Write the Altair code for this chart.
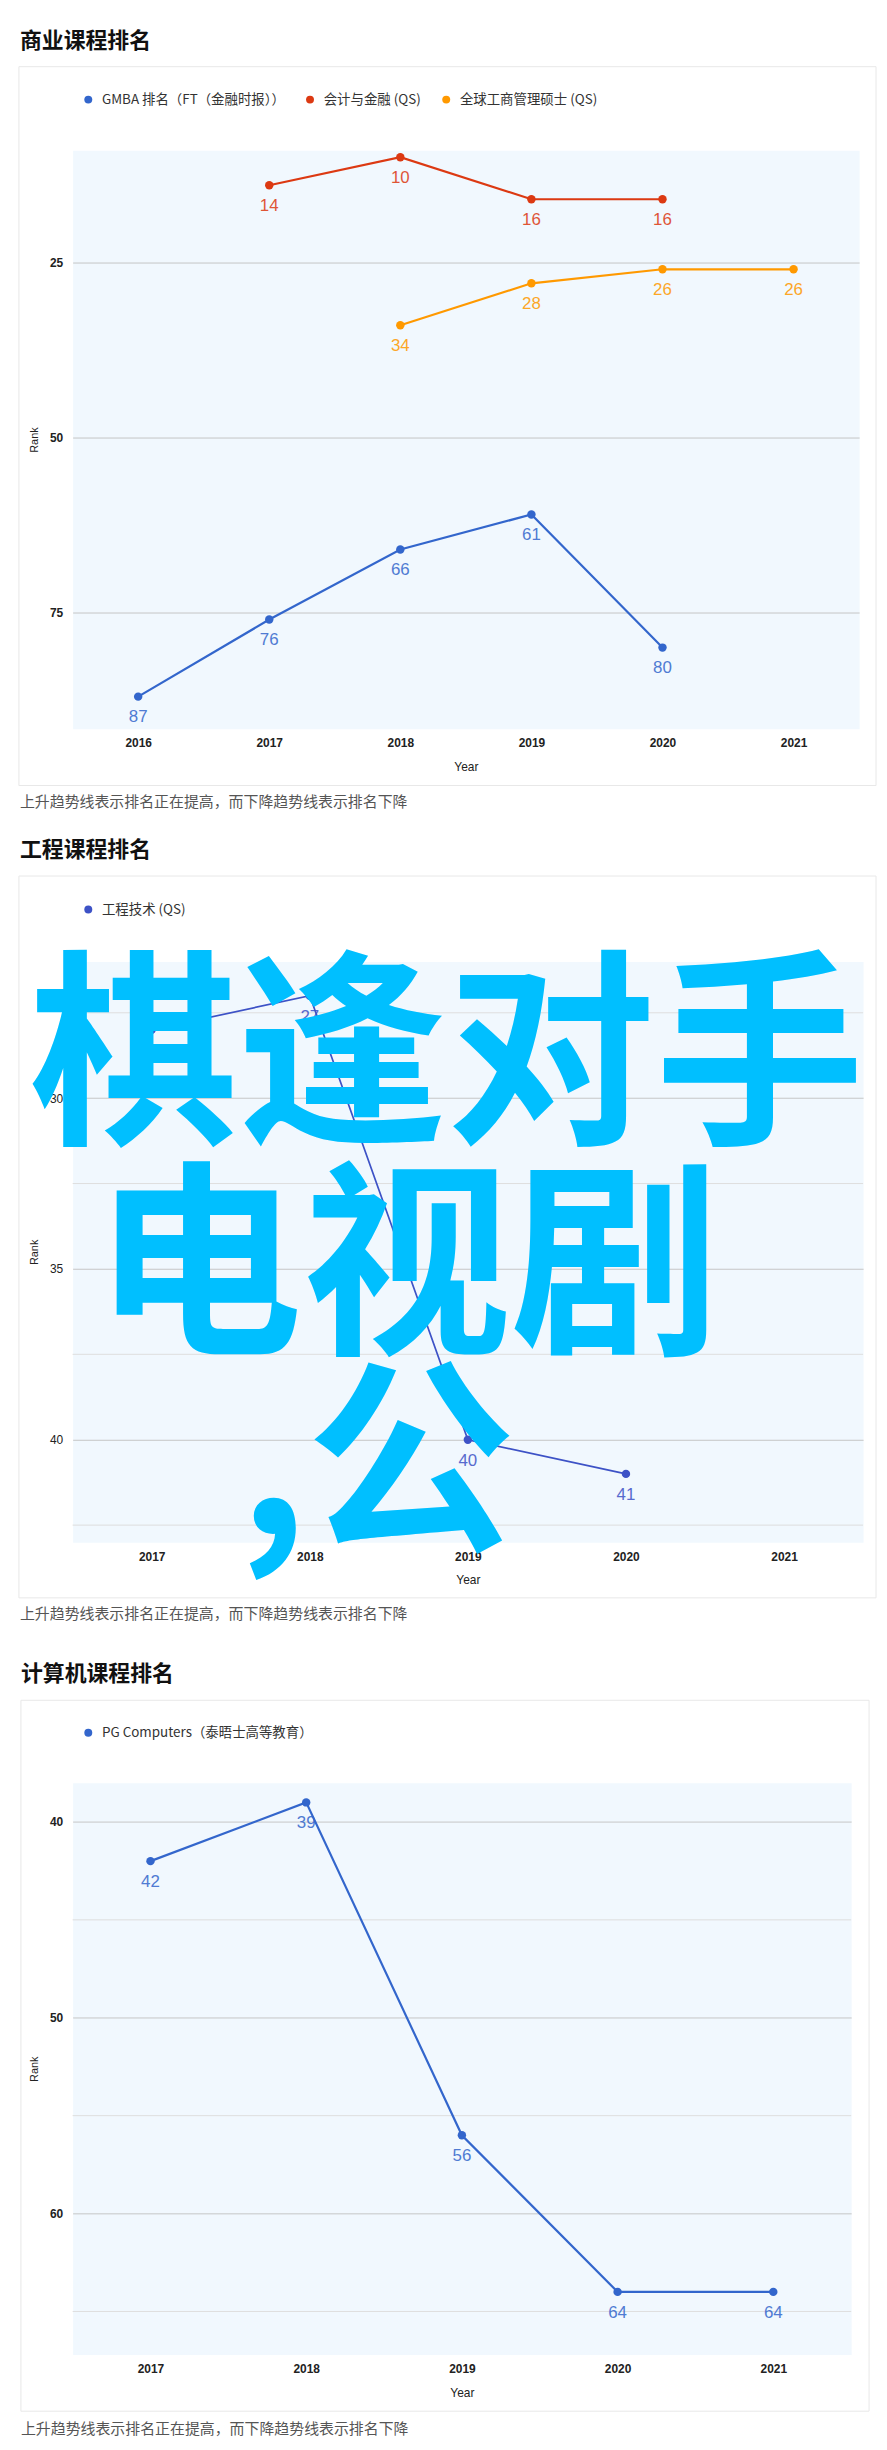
import altair as alt
import pandas as pd

FONT = "Liberation Sans, Arial, Noto Sans CJK SC, sans-serif"
CJK = "Noto Sans CJK SC, Liberation Sans, sans-serif"

CAPTION = "上升趋势线表示排名正在提高，而下降趋势线表示排名下降"

# ---------------- chart 1 data ----------------
c1_title = "商业课程排名"
c1_years = ["2016", "2017", "2018", "2019", "2020", "2021"]
c1_series = ["GMBA 排名（FT（金融时报））", "会计与金融 (QS)", "全球工商管理硕士 (QS)"]
c1_colors = ["#3366cc", "#dc3912", "#ff9900"]
gmba_years = ["2016", "2017", "2018", "2019", "2020"]
gmba_rank = [87, 76, 66, 61, 80]
acc_years = ["2017", "2018", "2019", "2020"]
acc_rank = [14, 10, 16, 16]
gm_years = ["2018", "2019", "2020", "2021"]
gm_rank = [34, 28, 26, 26]
c1_yticks = [25, 50, 75]
c1_minor = []
c1_ydomain = [9, 91.6]

# ---------------- chart 2 data ----------------
c2_title = "工程课程排名"
c2_years = ["2017", "2018", "2019", "2020", "2021"]
c2_series = ["工程技术 (QS)"]
c2_colors = ["#3d52c6"]
eng_years = ["2017", "2018", "2019", "2020"]
eng_rank = [28, 27, 40, 41]
c2_yticks = [30, 35, 40]
c2_minor = [27.5, 32.5, 37.5, 42.5]
c2_ydomain = [26, 43]

# ---------------- chart 3 data ----------------
c3_title = "计算机课程排名"
c3_years = ["2017", "2018", "2019", "2020", "2021"]
c3_series = ["PG Computers（泰晤士高等教育）"]
c3_colors = ["#3366cc"]
pg_years = ["2017", "2018", "2019", "2020", "2021"]
pg_rank = [42, 39, 56, 64, 64]
c3_yticks = [40, 50, 60]
c3_minor = [45, 55, 65]
c3_ydomain = [38, 67.2]

# overlay text seen on top of the second chart
overlay_lines = ["棋逢对手", "电视剧", ",公"]


def series_df(pairs):
    rows = []
    for name, years, ranks in pairs:
        for y, r in zip(years, ranks):
            rows.append({"Year": y, "Rank": r, "Series": name})
    return pd.DataFrame(rows)


def one(**kw):
    return pd.DataFrame([kw])


def panel(title, years, series, colors, df, yticks, minor, ydomain, w, h, g,
          line_width=2.2, ylabel_weight="bold", extra=None):
    xs = alt.Scale(type="point", domain=years, padding=0.5)
    ys = alt.Scale(domain=ydomain, reverse=True, nice=False, zero=False)
    cs = alt.Scale(domain=series, range=colors)

    xaxis = alt.Axis(title="Year", labelFont=FONT, labelFontWeight="bold",
                     labelFontSize=12, labelColor="#222", labelPadding=14,
                     labelBaseline="middle", labelAngle=0, ticks=False, tickSize=0,
                     domain=False, grid=False, titleFont=FONT, titleFontSize=12,
                     titleFontWeight="normal", titleColor="#222", titleY=38,
                     titleBaseline="middle")
    yaxis = alt.Axis(title="Rank", values=yticks, grid=True, gridColor="#c6c6c6",
                     gridWidth=1, domain=False, ticks=False, tickSize=0,
                     labelPadding=10, labelFont=FONT, labelFontWeight=ylabel_weight,
                     labelFontSize=12, labelColor="#222", titleX=-38, titleY=h / 2,
                     titleAlign="center", titleBaseline="middle", titleFont=FONT,
                     titleFontSize=11, titleFontWeight="normal", titleColor="#222")
    legend = alt.Legend(
        orient="none", legendX=g["legend"][0], legendY=g["legend"][1],
        direction="horizontal", title=None, labelFont=CJK, labelFontSize=13.5,
        labelColor="#333", symbolType="circle", symbolSize=64, symbolStrokeWidth=0,
        labelOffset=7, columnPadding=18, labelLimit=400, padding=0)

    X = alt.X("Year:O", scale=xs, axis=xaxis)
    Y = alt.Y("Rank:Q", scale=ys, axis=yaxis)
    C = alt.Color("Series:N", scale=cs, legend=legend)

    fx1, fy1, fx2, fy2 = g["frame"]
    frame = alt.Chart(one(a=1)).mark_rect(fill="transparent").encode(
        x=alt.value(fx1), x2=alt.value(fx2), y=alt.value(fy1), y2=alt.value(fy2))
    cx1, cy1, cx2, cy2 = g["card"]
    card = alt.Chart(one(a=1)).mark_rect(fill="transparent", stroke="#e8e8e8",
                                         strokeWidth=1).encode(
        x=alt.value(cx1), x2=alt.value(cx2), y=alt.value(cy1), y2=alt.value(cy2))

    layers = [frame, card]
    if minor:
        mdf = pd.DataFrame({"Rank": minor})
        layers.append(alt.Chart(mdf).mark_rule(color="#dedede", strokeWidth=1).encode(
            y=Y))

    base = alt.Chart(df)
    line = base.mark_line(strokeWidth=line_width).encode(x=X, y=Y, color=C)
    pts = base.mark_circle(size=72, opacity=1).encode(x=X, y=Y, color=C)
    labels = base.mark_text(dy=21, fontSize=17, font=FONT, opacity=0.85).encode(
        x=X, y=Y, text="Rank:Q", color=C)
    layers += [line, pts, labels]

    tx, ty = g["title"]
    layers.append(alt.Chart(one(t=title)).mark_text(
        align="left", baseline="middle", font=CJK, fontSize=22, fontWeight="bold",
        color="#111").encode(x=alt.value(tx), y=alt.value(ty), text="t:N"))
    layers.append(alt.Chart(one(t=CAPTION)).mark_text(
        align="left", baseline="middle", font=CJK, fontSize=15,
        color="#555").encode(x=alt.value(g["caption"][0]), y=alt.value(g["caption"][1]),
                             text="t:N"))
    if extra:
        layers += extra
    return alt.layer(*layers).properties(width=w, height=h)


df1 = series_df([(c1_series[0], gmba_years, gmba_rank),
                 (c1_series[1], acc_years, acc_rank),
                 (c1_series[2], gm_years, gm_rank)])
df2 = series_df([(c2_series[0], eng_years, eng_rank)])
df3 = series_df([(c3_series[0], pg_years, pg_rank)])

overlay_pos = [(-44, 167), (21, 379), (167, 577)]
overlay = []
for txt, (ox, oy) in zip(overlay_lines, overlay_pos):
    overlay.append(alt.Chart(one(t=txt)).mark_text(
        align="left", baseline="alphabetic", font=CJK, fontSize=210,
        fontWeight="bold", color="#00bfff").encode(
        x=alt.value(ox), y=alt.value(oy), text="t:N"))

c1 = panel(c1_title, c1_years, c1_series, c1_colors, df1, c1_yticks, c1_minor,
           c1_ydomain, 791, 582,
           {"frame": (-61, -135, 810, 677), "card": (-54, -84, 808, 639),
            "title": (-53, -110), "legend": (9, -58), "caption": (-53, 656)})
c2 = panel(c2_title, c2_years, c2_series, c2_colors, df2, c2_yticks, c2_minor,
           c2_ydomain, 795, 584,
           {"frame": (-61, -137, 810, 688), "card": (-54, -86, 808, 640),
            "title": (-53, -112), "legend": (9, -59), "caption": (-53, 656)},
           line_width=1.7, ylabel_weight="normal", extra=overlay)
c3 = panel(c3_title, c3_years, c3_series, c3_colors, df3, c3_yticks, c3_minor,
           c3_ydomain, 783, 575,
           {"frame": (-64, -136, 807, 661), "card": (-52, -83, 801, 632),
            "title": (-52, -109), "legend": (9, -57), "caption": (-52, 650)})

chart = alt.vconcat(c1, c2, c3, spacing=0).resolve_scale(
    x="independent", y="independent", color="independent"
).resolve_legend(color="independent").properties(
    padding=0, background="white"
).configure_view(
    stroke="transparent", fill="#f1f8fe"
)

chart.save("out.html", embed_options={"renderer": "svg", "actions": False})
